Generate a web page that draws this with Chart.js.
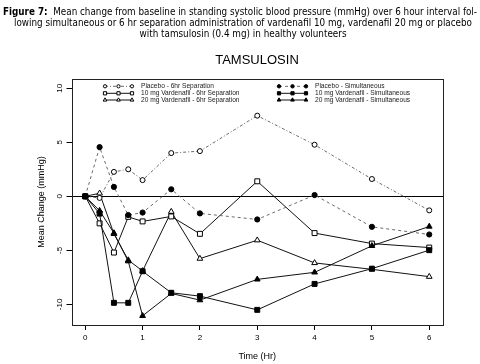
<!DOCTYPE html>
<html><head><meta charset="utf-8">
<script src="https://cdn.jsdelivr.net/npm/chart.js@4.4.1/dist/chart.umd.min.js"></script>
<style>
html,body{margin:0;padding:0;background:#fff;}
#wrap{position:relative;width:480px;height:364px;overflow:hidden;background:#fff;}
#c{position:absolute;left:0;top:0;}
.cap{position:absolute;width:0;height:12px;text-align:left;white-space:nowrap;font-family:'Liberation Sans Narrow','DejaVu Sans Condensed','Liberation Sans',sans-serif;font-size:11px;line-height:12px;color:#000;}
.cap span{display:inline-block;transform-origin:50% 50%;}
#sub{position:absolute;left:0;width:514px;text-align:center;top:52px;line-height:16px;font:13px 'Liberation Sans',Arial,sans-serif;color:#000;}
</style></head>
<body>
<div id="wrap">
<canvas id="c" width="480" height="364"></canvas>
<div class="cap" style="top:5.7px;left:240px"><span><b>Figure 7:</b>&nbsp; Mean change from baseline in standing systolic blood pressure (mmHg) over 6 hour interval fol-</span></div>
<div class="cap" style="top:17.3px;left:242.5px"><span>lowing simultaneous or 6 hr separation administration of vardenafil 10 mg, vardenafil 20 mg or placebo</span></div>
<div class="cap" style="top:28.3px;left:243.3px"><span>with tamsulosin (0.4 mg) in healthy volunteers</span></div>
<div id="sub">TAMSULOSIN</div>
</div>
<script>
// ---- data ----
const times = [0, 0.25, 0.5, 0.75, 1, 1.5, 2, 3, 4, 5, 6];
const xTickValues = [0, 1, 2, 3, 4, 5, 6];
const yTickValues = [-10, -5, 0, 5, 10];
const seriesLabels = [
  'Placebo - 6hr Separation',
  '10 mg Vardenafil - 6hr Separation',
  '20 mg Vardenafil - 6hr Separation',
  'Placebo - Simultaneous',
  '10 mg Vardenafil - Simultaneous',
  '20 mg Vardenafil - Simultaneous'
];
const placeboSep = [0, -0.15, 2.26, 2.5, 1.5, 4.0, 4.18, 7.46, 4.77, 1.6, -1.3];
const vard10Sep  = [0, -2.5, -5.2, -1.9, -2.32, -1.86, -3.47, 1.39, -3.4, -4.37, -4.74];
const vard20Sep  = [0, 0.28, -3.47, -5.9, -6.9, -1.42, -5.76, -4.06, -6.16, -6.75, -7.43];
const placeboSim = [0, 4.55, 0.87, -1.73, -1.5, 0.65, -1.58, -2.14, 0.12, -2.82, -3.53];
const vard10Sim  = [0, -1.6, -9.85, -9.85, -6.93, -8.92, -9.23, -10.5, -8.1, -6.69, -4.98];
const vard20Sim  = [0, -1.33, -3.4, -6.0, -11.05, -8.98, -9.6, -7.68, -7.03, -4.58, -2.79];
const seriesValues = [placeboSep, vard10Sep, vard20Sep, placeboSim, vard10Sim, vard20Sim];

// ---- styles ----
const styles = [
  {ps:'circle',   r:2.5, bg:'#fff', line:'#6a6a6a', dash:[3,2,1,2], order:2},
  {ps:'rect',     r:3.5, bg:'#fff', line:'#111',    dash:[],        order:2},
  {ps:'triangle', r:3.3, bg:'#fff', line:'#111',    dash:[],        order:2},
  {ps:'circle',   r:2.6, bg:'#000', line:'#6a6a6a', dash:[3,3],     order:1},
  {ps:'rect',     r:3.5, bg:'#000', line:'#111',    dash:[],        order:1},
  {ps:'triangle', r:3.3, bg:'#000', line:'#111',    dash:[],        order:1}
];

const datasets = seriesValues.map((vals, i) => ({
  label: seriesLabels[i],
  data: times.map((t, j) => ({x: t, y: vals[j]})),
  showLine: true,
  borderColor: styles[i].line,
  borderWidth: 1,
  borderDash: styles[i].dash,
  pointStyle: styles[i].ps,
  pointRadius: styles[i].r,
  pointBackgroundColor: styles[i].bg,
  pointBorderColor: '#000',
  pointBorderWidth: 1,
  tension: 0,
  order: styles[i].order
}));

const FONT = "'Liberation Sans', Arial, sans-serif";

const framePlugin = {
  id: 'frame',
  beforeDatasetsDraw(chart) {
    const {ctx, chartArea: a, scales: {y}} = chart;
    ctx.save();
    ctx.strokeStyle = '#000';
    ctx.lineWidth = 1;
    const yy = Math.round(y.getPixelForValue(0)) + 0.5;
    ctx.beginPath(); ctx.moveTo(a.left, yy); ctx.lineTo(a.right, yy); ctx.stroke();
    ctx.restore();
  },
  afterDraw(chart) {
    const {ctx, chartArea: a} = chart;
    ctx.save();
    ctx.strokeStyle = '#222';
    ctx.lineWidth = 1;
    const l = Math.round(a.left) + 0.5, t = Math.round(a.top) + 0.5;
    const r = Math.round(a.right) + 0.5, b = Math.round(a.bottom) + 0.5;
    ctx.strokeRect(l, t, r - l, b - t);
    ctx.restore();
  }
};

const legendPlugin = {
  id: 'rlegend',
  afterDatasetsDraw(chart) {
    const ctx = chart.ctx;
    const ds = chart.data.datasets;
    const cols = [105, 279];
    const rows = [86.3, 93.3, 100];
    ds.forEach((d, i) => {
      const x0 = cols[Math.floor(i / 3)], y = rows[i % 3];
      ctx.save();
      ctx.strokeStyle = d.borderColor; ctx.lineWidth = 1;
      ctx.setLineDash(d.borderDash || []);
      ctx.beginPath(); ctx.moveTo(x0, y); ctx.lineTo(x0 + 27, y); ctx.stroke();
      ctx.setLineDash([]);
      [0, 13.5, 27].forEach(dx => {
        ctx.fillStyle = d.pointBackgroundColor; ctx.strokeStyle = '#000'; ctx.lineWidth = 1;
        Chart.helpers.drawPoint(ctx, {pointStyle: d.pointStyle, radius: d.pointRadius * 0.65, borderWidth: 1, rotation: 0}, x0 + dx, y);
      });
      ctx.fillStyle = '#222';
      ctx.font = '6.6px ' + FONT;
      ctx.textBaseline = 'middle'; ctx.textAlign = 'left';
      ctx.fillText(d.label, x0 + 36, y);
      ctx.restore();
    });
  }
};

new Chart(document.getElementById('c'), {
  type: 'scatter',
  data: {datasets},
  plugins: [framePlugin, legendPlugin],
  options: {
    responsive: false, animation: false, devicePixelRatio: 1,
    layout: {padding: {top: 79, right: 37, left: 0, bottom: 0}},
    plugins: {legend: {display: false}, tooltip: {enabled: false}},
    scales: {
      x: {
        type: 'linear', min: -0.24, max: 6.24,
        afterBuildTicks: s => { s.ticks = xTickValues.map(v => ({value: v})); },
        afterFit: s => { s.height = 39; },
        grid: {drawOnChartArea: false, drawTicks: true, tickLength: 5, color: '#000', tickColor: '#000', tickWidth: 1},
        border: {display: false},
        ticks: {font: {size: 8, family: FONT}, color: '#000', padding: 3, maxRotation: 0, minRotation: 0},
        title: {display: true, text: 'Time (Hr)', font: {size: 9, family: FONT}, color: '#000', padding: {top: 0, bottom: 1.6}}
      },
      y: {
        type: 'linear', min: -11.9, max: 10.85,
        afterBuildTicks: s => { s.ticks = yTickValues.map(v => ({value: v})); },
        afterFit: s => { s.width = 71.5; },
        grid: {drawOnChartArea: false, drawTicks: true, tickLength: 5, color: '#000', tickColor: '#000', tickWidth: 1},
        border: {display: false},
        ticks: {font: {size: 8, family: FONT}, color: '#000', padding: 0.7, minRotation: 90, maxRotation: 90, crossAlign: 'center'},
        title: {display: true, text: 'Mean Change (mmHg)', font: {size: 9, family: FONT}, color: '#000', padding: {top: 36.6, bottom: 0}}
      }
    }
  }
});

// fit caption lines to the reference widths, centred on each line's anchor
const capTargets = [474, 458, 207];
document.querySelectorAll('.cap span').forEach((s, i) => {
  const w = s.getBoundingClientRect().width;
  s.style.transform = 'translateX(-50%) scaleX(' + (capTargets[i] / w) + ')';
});
</script>
</body></html>
